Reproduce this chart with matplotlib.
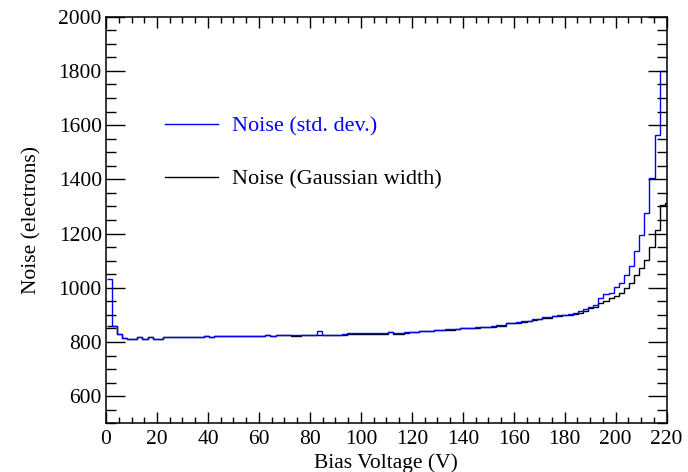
import numpy as np
import matplotlib.pyplot as plt

# bias voltage histogram binning: 110 bins of ~2 V
bin_edges = np.linspace(0.2, 221.3, 111)

# noise from the standard deviation (electrons), one value per bin
noise_std = [
    1031, 859, 828, 816, 810, 810, 817, 810, 817, 810,
    810, 818, 818, 818, 818, 818, 818, 818, 818, 822,
    819, 822, 822, 822, 822, 822, 822, 822, 822, 822,
    822, 826, 823, 825, 825, 825, 826, 826, 825, 825,
    825, 842, 825, 825, 825, 825, 828, 832, 832, 832,
    832, 832, 832, 832, 832, 837, 832, 832, 835, 836,
    838, 841, 841, 841, 845, 844, 847, 847, 849, 851,
    851, 851, 856, 856, 856, 858, 861, 861, 870, 870,
    875, 876, 878, 884, 886, 891, 891, 896, 899, 901,
    902, 906, 915, 920, 930, 936, 961, 977, 982, 1002,
    1017, 1046, 1080, 1134, 1195, 1275, 1404, 1563, 1800, 1800,
]

# noise from the gaussian fit width (electrons)
noise_gauss = [
    860, 859, 828, 816, 810, 810, 817, 810, 817, 810,
    810, 817, 817, 817, 817, 817, 817, 817, 817, 821,
    818, 821, 821, 821, 821, 821, 821, 821, 821, 821,
    821, 825, 822, 824, 824, 824, 821, 821, 824, 824,
    824, 825, 824, 824, 824, 824, 827, 831, 831, 831,
    831, 831, 831, 831, 831, 835, 831, 831, 834, 835,
    837, 840, 840, 840, 844, 843, 846, 846, 848, 850,
    850, 850, 851, 855, 855, 857, 860, 860, 869, 869,
    871, 874, 876, 882, 884, 889, 889, 894, 896, 898,
    900, 903, 908, 915, 924, 930, 943, 952, 961, 970,
    980, 998, 1019, 1047, 1072, 1102, 1152, 1213, 1305, 1311,
]

plt.rcParams['font.family'] = ['Liberation Serif', 'DejaVu Serif']
plt.rcParams['font.size'] = 15.5

fig = plt.figure(figsize=(6.88, 4.72), dpi=100)
ax = fig.add_axes([0.1541, 0.1032, 0.8149, 0.8614])

h_gauss = ax.stairs(noise_gauss, bin_edges, baseline=None, color='black', lw=1.0,
                    label='Noise (Gaussian width)')
h_std = ax.stairs(noise_std, bin_edges, baseline=None, color='#0000ff', lw=1.0,
                  label='Noise (std. dev.)')

ax.set_xlim(0, 220)
ax.set_ylim(500, 2000)
ax.set_xticks(np.arange(0, 221, 20))
ax.set_xticks(np.arange(0, 221, 5), minor=True)
ax.set_yticks(np.arange(600, 2001, 200))
ax.set_yticks(np.arange(500, 2001, 50), minor=True)

ax.tick_params(which='both', direction='in', top=True, right=True, width=1.0)
ax.tick_params(axis='x', which='major', length=8, pad=5)
ax.tick_params(axis='x', which='minor', length=4)
ax.tick_params(axis='y', which='major', length=14, pad=3)
ax.tick_params(axis='y', which='minor', length=7)
for sp in ax.spines.values():
    sp.set_linewidth(1.1)

ax.set_xlabel('Bias Voltage (V)', labelpad=3)
ax.set_ylabel('Noise (electrons)', labelpad=12)

ax.legend(handles=[h_std, h_gauss], loc='upper left', bbox_to_anchor=(0.105, 0.755),
          frameon=False, labelcolor='linecolor', fontsize=16, handlelength=2.4,
          handletextpad=0.6, labelspacing=1.45, borderaxespad=0, borderpad=0)

fig.savefig('out.png', dpi=100)
